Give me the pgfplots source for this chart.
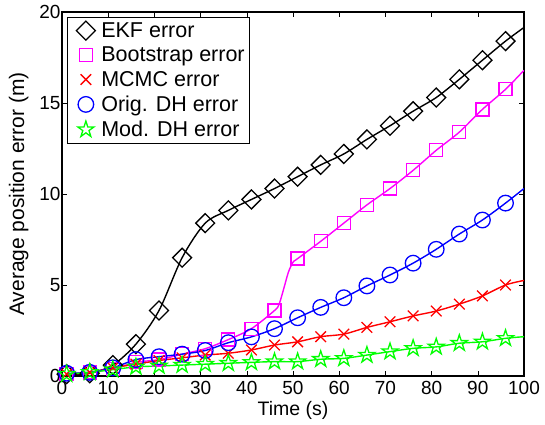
\documentclass[border=0pt]{standalone}
\usepackage{fontspec}
\setmainfont{Liberation Sans}
\usepackage{pgfplots}
\pgfplotsset{compat=1.18}
\definecolor{mag}{RGB}{255,0,255}
\definecolor{grn}{RGB}{0,255,0}
\pgfdeclareplotmark{pentagram}{%
  \pgfpathmoveto{\pgfqpointpolar{90}{\pgfplotmarksize}}%
  \pgfpathlineto{\pgfqpointpolar{126}{0.382\pgfplotmarksize}}%
  \pgfpathlineto{\pgfqpointpolar{162}{\pgfplotmarksize}}%
  \pgfpathlineto{\pgfqpointpolar{198}{0.382\pgfplotmarksize}}%
  \pgfpathlineto{\pgfqpointpolar{234}{\pgfplotmarksize}}%
  \pgfpathlineto{\pgfqpointpolar{270}{0.382\pgfplotmarksize}}%
  \pgfpathlineto{\pgfqpointpolar{306}{\pgfplotmarksize}}%
  \pgfpathlineto{\pgfqpointpolar{342}{0.382\pgfplotmarksize}}%
  \pgfpathlineto{\pgfqpointpolar{18}{\pgfplotmarksize}}%
  \pgfpathlineto{\pgfqpointpolar{54}{0.382\pgfplotmarksize}}%
  \pgfpathclose\pgfusepathqstroke}
\newcommand{\lgf}{\fontsize{21.5bp}{25bp}\selectfont}
\begin{document}
\begin{tikzpicture}
\begin{axis}[
 width=462bp, height=364bp, scale only axis,
 xmin=0, xmax=100, ymin=0, ymax=20,
 xtick={0,10,...,100}, ytick={0,5,...,20},
 tick align=inside, major tick length=5bp,
 axis line style={line width=1.1pt},
 tick style={black, line width=0.6pt},
 font=\fontsize{19bp}{22bp}\selectfont,
 /pgf/number format/assume math mode=true,
 xlabel={Time (s)}, ylabel={Average position error (m)},
 xlabel style={at={(axis description cs:0.5,-0.094)}, anchor=center, font=\fontsize{19.5bp}{22bp}\selectfont},
 ylabel style={at={(axis description cs:-0.094,0.5)}, anchor=center, font=\fontsize{21bp}{24bp}\selectfont},
 yticklabel style={xshift=2bp},
 xticklabel style={yshift=-2bp},
 legend style={at={(rel axis cs:0.011,0.986)}, anchor=north west,
   draw=black, line width=0.8pt, font=\lgf,
   nodes={font=\lgf, inner sep=3bp},
   row sep=2.1bp, inner sep=2bp},
 legend cell align=left,
 every axis plot post/.append style={legend image code/.code={\path (0bp,0bp) (28bp,0bp); \draw[mark repeat=2,mark phase=2,#1] plot coordinates {(0bp,0bp)(16bp,0bp)(28bp,0bp)};}},
]
% lines
\addplot[black, line width=1.4pt, smooth, forget plot] coordinates {
(1,0.1)(6,0.15)(11,0.6)(16,1.75)(21,3.6)(26,6.5)(31,8.4)(36,9.1)(41,9.7)(46,10.3)(51,10.95)(56,11.6)(61,12.2)(66,13.0)(71,13.75)(76,14.55)(81,15.3)(86,16.3)(91,17.35)(96,18.4)(100,19.15)};
\addplot[mag, line width=1.4pt, smooth, forget plot] coordinates {
(1,0.1)(6,0.2)(11,0.4)(16,0.75)(21,0.9)(26,1.2)(31,1.5)(36,2.0)(41,2.6)(46,3.6)(47,3.95)(48,4.8)(49,5.7)(50,6.25)(51,6.45)(56,7.4)(61,8.4)(66,9.4)(71,10.3)(76,11.3)(81,12.4)(86,13.4)(91,14.65)(96,15.75)(100,16.8)};
\addplot[red, line width=1.4pt, smooth, forget plot] coordinates {
(1,0.1)(6,0.2)(11,0.45)(16,0.65)(21,0.85)(26,1.0)(31,1.15)(36,1.25)(41,1.43)(46,1.7)(51,1.88)(56,2.16)(61,2.3)(66,2.67)(71,2.98)(76,3.3)(81,3.57)(86,3.95)(91,4.4)(96,5.0)(100,5.25)};
\addplot[blue, line width=1.4pt, smooth, forget plot] coordinates {
(1,0.15)(6,0.2)(11,0.45)(16,0.9)(21,1.06)(26,1.2)(31,1.4)(36,1.83)(41,2.15)(46,2.6)(51,3.2)(56,3.77)(61,4.3)(66,4.95)(71,5.55)(76,6.2)(81,6.96)(86,7.8)(91,8.57)(96,9.5)(100,10.3)};
\addplot[grn, line width=1.4pt, smooth, forget plot] coordinates {
(1,0.1)(6,0.2)(11,0.35)(16,0.5)(21,0.55)(26,0.6)(31,0.65)(36,0.7)(41,0.75)(46,0.79)(51,0.79)(56,0.92)(61,0.97)(66,1.15)(71,1.34)(76,1.52)(81,1.6)(86,1.8)(91,1.88)(96,2.07)(100,2.16)};
% marks
\addplot[only marks, black, mark=square, mark size=6.7bp, mark options={rotate=45, line width=1.3pt}] coordinates {
(1,0.1)(6,0.15)(11,0.6)(16,1.75)(21,3.6)(26,6.5)(31,8.4)(36,9.1)(41,9.7)(46,10.3)(51,10.95)(56,11.6)(61,12.2)(66,13.0)(71,13.75)(76,14.55)(81,15.3)(86,16.3)(91,17.35)(96,18.4)};
\addlegendentry{\lgf EKF error}
\addplot[only marks, mag, mark=square, mark size=6.5bp, mark options={line width=1.3pt}] coordinates {
(1,0.1)(6,0.2)(11,0.4)(16,0.75)(21,0.9)(26,1.2)(31,1.5)(36,2.0)(41,2.6)(46,3.6)(51,6.45)(56,7.4)(61,8.4)(66,9.4)(71,10.3)(76,11.3)(81,12.4)(86,13.4)(91,14.65)(96,15.75)};
\addlegendentry{\lgf Bootstrap error}
\addplot[only marks, red, mark=x, mark size=7.5bp, mark options={line width=1.3pt}] coordinates {
(1,0.1)(6,0.2)(11,0.45)(16,0.65)(21,0.85)(26,1.0)(31,1.15)(36,1.25)(41,1.43)(46,1.7)(51,1.88)(56,2.16)(61,2.3)(66,2.67)(71,2.98)(76,3.3)(81,3.57)(86,3.95)(91,4.4)(96,5.0)};
\addlegendentry{\lgf MCMC error}
\addplot[only marks, blue, mark=o, mark size=7.8bp, mark options={line width=1.3pt}] coordinates {
(1,0.15)(6,0.2)(11,0.45)(16,0.9)(21,1.06)(26,1.2)(31,1.4)(36,1.83)(41,2.15)(46,2.6)(51,3.2)(56,3.77)(61,4.3)(66,4.95)(71,5.55)(76,6.2)(81,6.96)(86,7.8)(91,8.57)(96,9.5)};
\addlegendentry{\lgf Orig. DH error}
\addplot[only marks, grn, mark=pentagram, mark size=8.5bp, mark options={line width=1.3pt}] coordinates {
(1,0.1)(6,0.2)(11,0.35)(16,0.5)(21,0.55)(26,0.6)(31,0.65)(36,0.7)(41,0.75)(46,0.79)(51,0.79)(56,0.92)(61,0.97)(66,1.15)(71,1.34)(76,1.52)(81,1.6)(86,1.8)(91,1.88)(96,2.07)};
\addlegendentry{\lgf Mod. DH error}
\end{axis}
\path (current axis.south west) ++(-62bp,-49bp) coordinate (a);
\path (current axis.north east) ++(21bp,12bp) coordinate (b);
\path (a) rectangle (b);
\end{tikzpicture}
\end{document}
